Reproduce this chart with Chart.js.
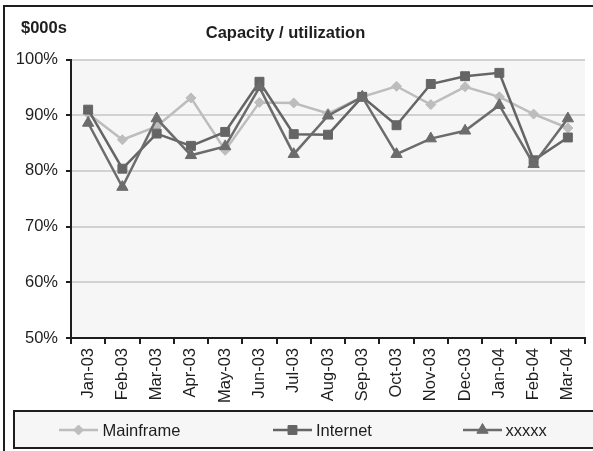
<!DOCTYPE html>
<html>
<head>
<meta charset="utf-8">
<script src="https://cdn.jsdelivr.net/npm/chart.js@4.4.1/dist/chart.umd.min.js"></script>
<style>
  html, body { margin: 0; padding: 0; background: #ffffff; }
  #wrap { width: 593px; height: 451px; position: relative; }
</style>
</head>
<body>
<div id="wrap"><canvas id="c" width="593" height="451"></canvas></div>
<script>
const categories = ['Jan-03','Feb-03','Mar-03','Apr-03','May-03','Jun-03','Jul-03','Aug-03','Sep-03','Oct-03','Nov-03','Dec-03','Jan-04','Feb-04','Mar-04'];
const mainframe = [90.3, 85.6, 88.0, 93.1, 83.7, 92.3, 92.2, 90.3, 93.3, 95.2, 91.9, 95.1, 93.3, 90.2, 87.7];
const internet  = [91.0, 80.4, 86.7, 84.5, 87.0, 96.0, 86.6, 86.5, 93.3, 88.2, 95.6, 97.0, 97.6, 81.9, 86.0];
const xxxxx     = [88.6, 77.1, 89.4, 82.8, 84.4, 95.0, 83.0, 89.9, 93.3, 83.0, 85.8, 87.2, 91.8, 81.2, 89.4];
const yTicks = [50, 60, 70, 80, 90, 100];
const chartTitle = 'Capacity / utilization';
const unitLabel = '$000s';

const FONT = '"Liberation Sans", Arial, sans-serif';

const framePlugin = {
  id: 'frame',
  beforeDraw(chart) {
    const ctx = chart.ctx, a = chart.chartArea;
    ctx.save();
    ctx.fillStyle = '#ffffff';
    ctx.fillRect(0, 0, chart.width, chart.height);
    ctx.fillStyle = '#f6f6f6';
    ctx.fillRect(a.left, a.top, a.right - a.left, a.bottom - a.top);
    ctx.restore();
  },
  afterDraw(chart) {
    const ctx = chart.ctx;
    ctx.save();
    // outer frame
    ctx.strokeStyle = '#1e1e1e';
    ctx.lineWidth = 2;
    ctx.strokeRect(4, 6, 620, 480);
    // titles
    ctx.fillStyle = '#1e1e1e';
    ctx.font = 'bold 16.5px ' + FONT;
    ctx.textBaseline = 'alphabetic';
    ctx.textAlign = 'left';
    ctx.fillText(unitLabel, 21, 33.3);
    ctx.textAlign = 'center';
    ctx.fillText(chartTitle, 285.5, 38.3);
    // legend box
    ctx.fillStyle = '#f6f6f6';
    ctx.fillRect(14, 411, 620, 37);
    ctx.strokeStyle = '#1e1e1e';
    ctx.lineWidth = 2;
    ctx.strokeRect(14, 411, 620, 37);
    const items = [
      {ds: 0, x0: 59, x1: 98, tx: 102.5},
      {ds: 1, x0: 273, x1: 312, tx: 316},
      {ds: 2, x0: 463, x1: 502, tx: 505.5}
    ];
    const yc = 430;
    items.forEach(it => {
      const ds = chart.data.datasets[it.ds];
      ctx.strokeStyle = ds.borderColor;
      ctx.lineWidth = ds.borderWidth;
      ctx.beginPath();
      ctx.moveTo(it.x0, yc);
      ctx.lineTo(it.x1, yc);
      ctx.stroke();
      ctx.fillStyle = ds.pointBackgroundColor;
      ctx.strokeStyle = ds.pointBorderColor;
      ctx.lineWidth = 1;
      Chart.helpers.drawPoint(ctx, {
        pointStyle: ds.pointStyle,
        radius: ds.pointRadius,
        rotation: 0,
        borderWidth: 1
      }, (it.x0 + it.x1) / 2, yc);
      ctx.font = '16.5px ' + FONT;
      ctx.textAlign = 'left';
      ctx.textBaseline = 'middle';
      ctx.fillStyle = '#1e1e1e';
      ctx.fillText(ds.label, it.tx, yc + 1);
    });
    ctx.restore();
  }
};

const mfColor = '#bdbdbd';
const inColor = '#656565';
const xxColor = '#6c6c6c';

const chart = new Chart(document.getElementById('c'), {
  type: 'line',
  data: {
    labels: categories,
    datasets: [
      {
        label: 'Mainframe', data: mainframe, order: 3,
        borderColor: mfColor, backgroundColor: mfColor,
        pointBackgroundColor: mfColor, pointBorderColor: mfColor,
        borderWidth: 2.5, pointStyle: 'rectRot', pointRadius: 5, pointBorderWidth: 1,
        tension: 0
      },
      {
        label: 'Internet', data: internet, order: 2,
        borderColor: inColor, backgroundColor: inColor,
        pointBackgroundColor: inColor, pointBorderColor: inColor,
        borderWidth: 2.5, pointStyle: 'rect', pointRadius: 6.3, pointBorderWidth: 1,
        tension: 0
      },
      {
        label: 'xxxxx', data: xxxxx, order: 1,
        borderColor: xxColor, backgroundColor: xxColor,
        pointBackgroundColor: xxColor, pointBorderColor: xxColor,
        borderWidth: 2.5, pointStyle: 'triangle', pointRadius: 6.5, pointBorderWidth: 1,
        tension: 0
      }
    ]
  },
  options: {
    responsive: false,
    animation: false,
    events: [],
    layout: { padding: { left: 0, right: 8, top: 59.5, bottom: 0 } },
    plugins: {
      legend: { display: false },
      title: { display: false },
      tooltip: { enabled: false }
    },
    scales: {
      x: {
        type: 'category',
        offset: true,
        afterFit(scale) { scale.height = 113; },
        grid: { offset: true, drawOnChartArea: false, tickLength: 6, color: '#1e1e1e', lineWidth: 2 },
        border: { color: '#1e1e1e', width: 2 },
        ticks: {
          minRotation: 90, maxRotation: 90, padding: 4, autoSkip: false,
          color: '#1e1e1e', font: { family: FONT, size: 16.5 }
        }
      },
      y: {
        min: 50, max: 100,
        afterFit(scale) { scale.width = 71; },
        afterBuildTicks(scale) { scale.ticks = yTicks.map(v => ({ value: v })); },
        grid: { color: '#d2d2d2', lineWidth: 2, tickLength: 5, tickColor: '#1e1e1e', tickWidth: 2 },
        border: { color: '#1e1e1e', width: 2 },
        ticks: {
          padding: 8, color: '#1e1e1e', font: { family: FONT, size: 16.5 },
          callback: v => v + '%'
        }
      }
    }
  },
  plugins: [framePlugin]
});
</script>
</body>
</html>
